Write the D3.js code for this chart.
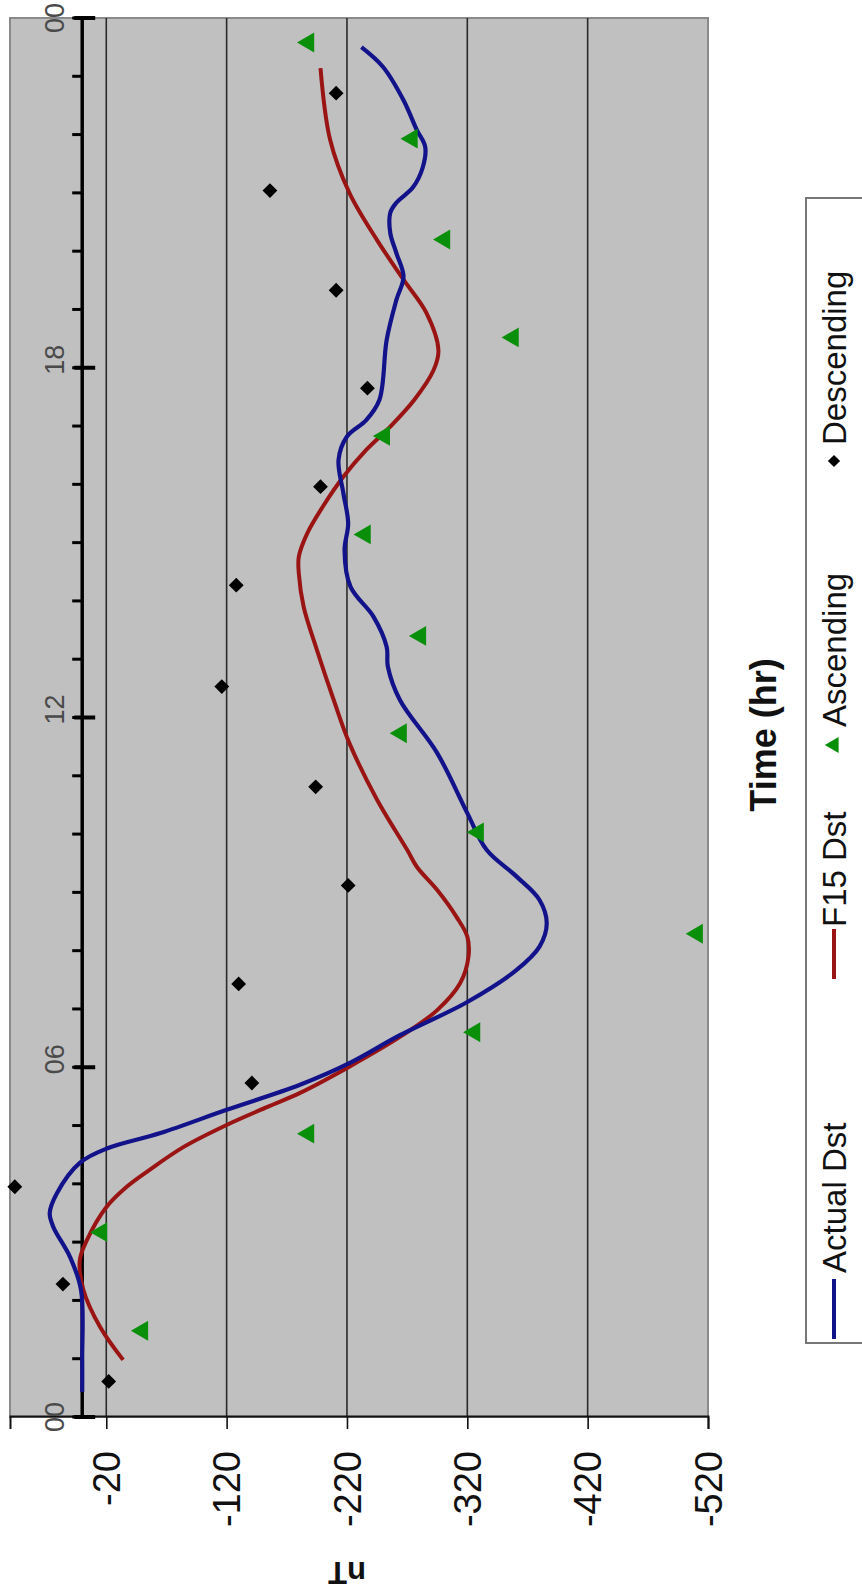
<!DOCTYPE html>
<html><head><meta charset="utf-8">
<script src="https://cdn.jsdelivr.net/npm/d3@7"></script>
<style>
html,body{margin:0;padding:0;background:#fff;}
svg{display:block;font-family:Arial,"Liberation Sans",sans-serif;}
</style></head>
<body>
<svg id="chart" width="862" height="1591"></svg>
<script>
// ---- data ----
const timeTicks = [0, 6, 12, 18, 24];
const timeTickLabels = ["00", "06", "12", "18", "00"];
const minorTicks = d3.range(0, 25);
const valueTicks = [-20, -120, -220, -320, -420, -520];
const valueTickLabels = ["-20", "-120", "-220", "-320", "-420", "-520"];

const actualT = [0.43, 1.0, 2.18, 2.74, 3.26, 3.5, 3.84, 4.36, 4.61, 4.87, 5.27, 5.7, 6.07, 6.55, 7.12, 7.67, 8.07, 8.47, 8.87, 9.27, 9.73, 10.36, 11.39, 12.3, 12.87, 13.21, 13.73, 14.24, 14.87, 15.33, 15.85, 16.42, 16.82, 17.1, 17.45, 18.48, 19.16, 19.56, 19.97, 20.31, 20.66, 20.83, 21.1, 21.44, 21.79, 22.08, 22.59, 23.16, 23.5];
const actualV = [0, 0, 1, 10, 24, 27, 21, 2, -21, -65, -120, -181, -222, -264, -320, -361, -380, -386, -380, -361, -336, -320, -295, -264, -254, -253, -242, -223, -218, -221, -217, -213, -220, -236, -247, -253, -261, -267, -261, -256, -256, -261, -275, -283, -285, -278, -267, -250, -232];

const f15T = [0.98, 1.54, 2.18, 2.69, 3.04, 3.6, 3.95, 4.24, 4.63, 5.01, 5.32, 5.56, 6.01, 6.52, 6.98, 7.44, 7.9, 8.24, 8.58, 9.04, 9.44, 9.73, 10.59, 11.56, 12.3, 13.16, 13.9, 14.47, 14.76, 15.16, 15.62, 16.13, 16.59, 16.99, 17.45, 17.96, 18.3, 18.94, 19.51, 20.19, 21.0, 21.91, 23.14];
const f15V = [-34, -15, -1, 2, -4, -20, -37, -56, -84, -120, -154, -181, -222, -264, -295, -314, -321, -320, -311, -295, -278, -270, -245, -222, -209, -195, -184, -180, -180, -187, -200, -217, -236, -256, -276, -292, -296, -286, -267, -245, -222, -206, -198];

const ascT = [1.48, 3.17, 4.86, 6.6, 8.29, 10.03, 11.73, 13.4, 15.14, 16.83, 18.52, 20.2, 21.93, 23.58];
const ascV = [-50, -16, -188, -326, -511, -329, -265, -281, -235, -251, -358, -301, -274, -188];

const descT = [0.61, 2.28, 3.95, 5.73, 7.43, 9.12, 10.81, 12.53, 14.27, 15.96, 17.65, 19.33, 21.04, 22.71];
const descV = [-22, 16, 56, -141, -130, -221, -194, -116, -128, -198, -237, -211, -156, -211];

const legendNames = ["Actual Dst", "F15 Dst", "Ascending", "Descending"];

// ---- layout (unrotated frame: u horizontal, v vertical; rotated -90deg on screen) ----
const W = 1591, H = 862;
const svg = d3.select("#chart");
const g = svg.append("g").attr("transform", `translate(0,${W}) rotate(-90)`);

const x = d3.scaleLinear().domain([0, 24]).range([174, 1573]);
const y = d3.scaleLinear().domain([60, -520]).range([10, 708]);

// plot area
g.append("rect").attr("x", x(0)).attr("y", y(60)).attr("width", x(24) - x(0)).attr("height", y(-520) - y(60))
  .attr("fill", "#c0c0c0").attr("stroke", "#8a8a8a").attr("stroke-width", 2);

// gridlines
g.append("g").selectAll("line").data(valueTicks.slice(0, 5)).join("line")
  .attr("x1", x(0)).attr("x2", x(24)).attr("y1", d => y(d)).attr("y2", d => y(d))
  .attr("stroke", "#2a2a2a").attr("stroke-width", 1.6);

// value axis (left in unrotated frame -> bottom on screen)
const yAxis = d3.axisLeft(y).tickValues(valueTicks).tickFormat((d, i) => valueTickLabels[i]).tickSize(12).tickPadding(22);
const ya = g.append("g").attr("transform", `translate(${x(0)},0)`).call(yAxis);
ya.select(".domain").attr("stroke", "#111").attr("stroke-width", 2);
ya.selectAll(".tick line").attr("stroke", "#111").attr("stroke-width", 1.6);
ya.selectAll(".tick text").attr("font-size", 38).attr("fill", "#111").attr("font-family", "Arial, 'Liberation Sans', sans-serif").attr("dy", "0.35em");

// time axis crossing at 0 nT
const y0 = y(0);
g.append("line").attr("x1", x(0)).attr("x2", x(24)).attr("y1", y0).attr("y2", y0).attr("stroke", "#000").attr("stroke-width", 3.5);
g.append("g").selectAll("line").data(minorTicks).join("line")
  .attr("x1", d => x(d)).attr("x2", d => x(d)).attr("y1", y0 - 10).attr("y2", y0)
  .attr("stroke", "#000").attr("stroke-width", 3);
g.append("g").selectAll("line").data(timeTicks).join("line")
  .attr("x1", d => x(d)).attr("x2", d => x(d)).attr("y1", y0 - 8).attr("y2", y0 + 13)
  .attr("stroke", "#000").attr("stroke-width", 4);
g.append("g").selectAll("text").data(timeTicks).join("text")
  .attr("x", d => x(d) + (d > 0 && d < 24 ? 8 : 0)).attr("y", 55).attr("text-anchor", "middle").attr("dy", "0.35em")
  .attr("font-size", 27).attr("fill", "#4a4a4a").text((d, i) => timeTickLabels[i]);

// lines
const line = d3.line().x(d => x(d[0])).y(d => y(d[1])).curve(d3.curveCatmullRom.alpha(0.5));
g.append("path").datum(f15T.map((t, i) => [t, f15V[i]])).attr("d", line)
  .attr("fill", "none").attr("stroke", "#9a1414").attr("stroke-width", 4);
g.append("path").datum(actualT.map((t, i) => [t, actualV[i]])).attr("d", line)
  .attr("fill", "none").attr("stroke", "#12128a").attr("stroke-width", 4.2);

// markers
const tri = d3.symbol(d3.symbolTriangle, 170);
const dia = d3.symbol(d3.symbolSquare, 110);
g.append("g").selectAll("path").data(ascT.map((t, i) => [t, ascV[i]])).join("path")
  .attr("d", tri).attr("transform", d => `translate(${x(d[0])},${y(d[1])})`).attr("fill", "#0a8f0a");
g.append("g").selectAll("path").data(descT.map((t, i) => [t, descV[i]])).join("path")
  .attr("d", dia).attr("transform", d => `translate(${x(d[0])},${y(d[1])}) rotate(45)`).attr("fill", "#000");

// axis titles
g.append("text").attr("transform", `translate(18,347) rotate(-90)`).attr("text-anchor", "middle").attr("dy", "0.35em")
  .attr("font-size", 31).attr("font-weight", "bold").attr("fill", "#111").text("nT");
g.append("text").attr("x", 856).attr("y", 763).attr("text-anchor", "middle").attr("dy", "0.35em")
  .attr("font-size", 36).attr("font-weight", "bold").attr("fill", "#111").text("Time (hr)");

// legend
const lg = g.append("g");
lg.append("rect").attr("x", 248).attr("y", 806).attr("width", 1145).attr("height", 70)
  .attr("fill", "#fff").attr("stroke", "#777").attr("stroke-width", 2);
const lv = 834;
const legX = [252, 612, 846, 1130]; // marker positions
lg.append("line").attr("x1", legX[0]).attr("x2", legX[0] + 60).attr("y1", lv).attr("y2", lv).attr("stroke", "#12128a").attr("stroke-width", 4);
lg.append("line").attr("x1", legX[1]).attr("x2", legX[1] + 50).attr("y1", lv).attr("y2", lv).attr("stroke", "#9a1414").attr("stroke-width", 4);
lg.append("path").attr("d", d3.symbol(d3.symbolTriangle, 110)).attr("transform", `translate(${legX[2]},${lv})`).attr("fill", "#0a8f0a");
lg.append("path").attr("d", d3.symbol(d3.symbolSquare, 75)).attr("transform", `translate(${legX[3]},${lv}) rotate(45)`).attr("fill", "#000");
const textStarts = [318, 664, 864, 1146];
lg.selectAll("text").data(legendNames).join("text")
  .attr("x", (d, i) => textStarts[i]).attr("y", lv).attr("dy", "0.36em")
  .attr("font-size", 33).attr("fill", "#111").text(d => d);
</script>
</body></html>
